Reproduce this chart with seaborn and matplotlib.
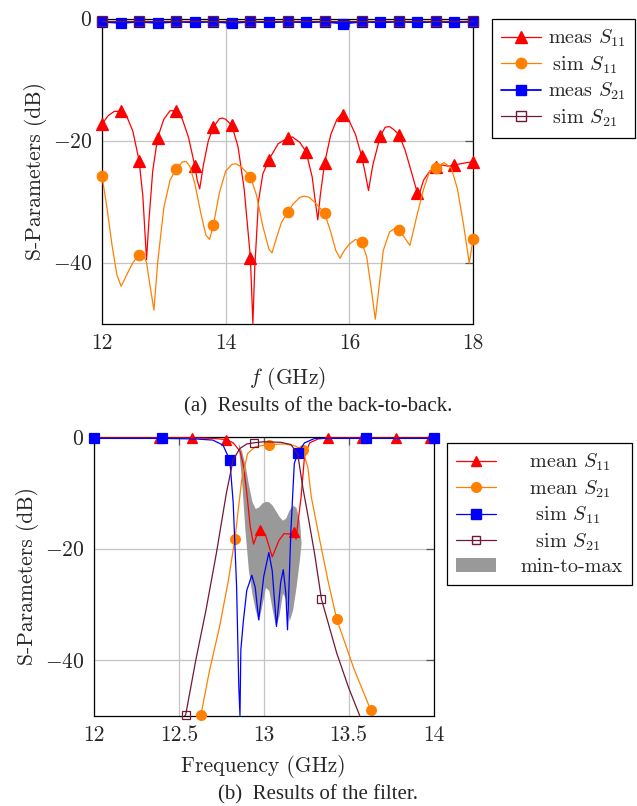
import numpy as np
import matplotlib
matplotlib.use("Agg")
import matplotlib.pyplot as plt
from matplotlib.lines import Line2D
from matplotlib.patches import Patch
import seaborn as sns

# ---------------- (a) back-to-back ----------------
f_meas_s11 = [12.00, 12.10, 12.20, 12.30, 12.40, 12.50, 12.60, 12.66, 12.70, 12.72, 12.76, 12.82,
              12.90, 13.00, 13.10, 13.20, 13.30, 13.40, 13.50, 13.54, 13.58, 13.64, 13.72, 13.80,
              13.90, 13.95, 14.00, 14.10, 14.20, 14.30, 14.40, 14.44, 14.47, 14.53, 14.60, 14.70,
              14.85, 15.00, 15.08, 15.20, 15.30, 15.40, 15.45, 15.49, 15.53, 15.60, 15.70, 15.80,
              15.88, 15.90, 16.00, 16.10, 16.20, 16.26, 16.31, 16.38, 16.50, 16.58, 16.65, 16.72,
              16.80, 16.90, 17.00, 17.10, 17.13, 17.20, 17.30, 17.40, 17.50, 17.60, 17.70, 17.80,
              17.90, 18.00]
meas_s11 = [-17.3, -15.9, -15.2, -15.2, -16.0, -18.5, -23.3, -29.0, -36.0, -39.5, -33.0, -25.0,
            -19.5, -16.5, -15.1, -15.1, -16.5, -19.5, -24.1, -26.5, -27.9, -24.0, -20.0, -17.8,
            -16.4, -16.3, -16.5, -17.5, -21.0, -28.0, -39.2, -50.0, -41.0, -30.0, -25.5, -23.1,
            -20.5, -19.6, -19.4, -20.3, -21.8, -26.0, -30.0, -33.0, -29.0, -23.7, -19.0, -16.5,
            -15.6, -15.8, -16.8, -19.0, -22.6, -25.5, -28.2, -24.0, -19.3, -17.8, -17.7, -18.2,
            -19.0, -21.5, -25.0, -28.6, -28.8, -26.5, -25.0, -24.3, -24.0, -24.2, -24.0, -23.8,
            -23.6, -23.5]
meas_s11_marks = [12.0, 12.3, 12.6, 12.9, 13.2, 13.5, 13.8, 14.1, 14.4, 14.7, 15.0, 15.3, 15.6,
                  15.9, 16.2, 16.5, 16.8, 17.1, 17.4, 17.7, 18.0]

f_sim_s11 = [12.00, 12.08, 12.16, 12.24, 12.31, 12.40, 12.50, 12.60, 12.66, 12.72, 12.78, 12.84,
             12.90, 13.00, 13.10, 13.20, 13.30, 13.36, 13.42, 13.50, 13.60, 13.68, 13.74, 13.80,
             13.90, 14.00, 14.10, 14.17, 14.25, 14.40, 14.50, 14.60, 14.70, 14.75, 14.82, 14.90,
             15.00, 15.10, 15.20, 15.27, 15.35, 15.45, 15.60, 15.70, 15.78, 15.85, 15.92, 16.00,
             16.10, 16.20, 16.28, 16.35, 16.42, 16.48, 16.55, 16.65, 16.75, 16.80, 16.90, 16.98,
             17.10, 17.20, 17.30, 17.40, 17.53, 17.65, 17.75, 17.85, 17.94, 18.00]
sim_s11 = [-25.8, -31.0, -37.0, -42.0, -43.9, -42.0, -40.0, -38.7, -38.5, -40.0, -44.0, -47.8,
           -40.0, -31.0, -26.5, -24.6, -23.5, -23.4, -24.2, -27.0, -32.0, -35.5, -36.2, -33.9,
           -28.5, -25.0, -23.9, -23.8, -24.3, -25.9, -29.0, -34.0, -37.8, -38.4, -36.0, -33.5,
           -31.7, -30.3, -29.3, -29.1, -29.3, -30.2, -31.9, -35.0, -38.0, -39.3, -38.0, -37.0,
           -36.2, -36.7, -39.0, -44.0, -49.3, -44.0, -38.0, -35.0, -34.3, -34.6, -36.0, -37.2,
           -32.0, -28.0, -25.0, -24.5, -23.6, -24.5, -28.0, -34.0, -40.1, -36.2]
sim_s11_marks = [12.0, 12.6, 13.2, 13.8, 14.4, 15.0, 15.6, 16.2, 16.8, 17.4, 18.0]

f_s21 = [12.0, 12.3, 12.6, 12.9, 13.2, 13.5, 13.8, 14.1, 14.4, 14.7, 15.0, 15.3, 15.6, 15.9,
         16.2, 16.5, 16.8, 17.1, 17.4, 17.7, 18.0]
meas_s21 = [-0.5, -0.7, -0.5, -0.7, -0.5, -0.6, -0.5, -0.7, -0.5, -0.6, -0.5, -0.6, -0.5, -0.8,
            -0.5, -0.6, -0.5, -0.6, -0.5, -0.6, -0.5]
sim_s21 = [-0.3, -0.3, -0.3, -0.3, -0.3, -0.3, -0.3, -0.3, -0.3, -0.3, -0.3, -0.3, -0.3, -0.3,
           -0.3, -0.3, -0.3, -0.3, -0.3, -0.3, -0.3]
meas_s21_marks = f_s21
sim_s21_marks = [12.0, 12.6, 13.2, 13.8, 14.4, 15.0, 15.6, 16.2, 16.8, 17.4, 18.0]

# ---------------- (b) filter ----------------
f_mean_s11 = [12.00, 12.38, 12.58, 12.70, 12.78, 12.82, 12.86, 12.88, 12.90, 12.92, 12.94, 12.96,
              12.98, 13.01, 13.05, 13.09, 13.12, 13.15, 13.18, 13.19, 13.22, 13.24, 13.27, 13.32,
              13.38, 13.58, 13.78, 13.98, 14.00]
mean_s11 = [-0.1, -0.1, -0.1, -0.2, -0.4, -1.0, -2.5, -5.0, -10.0, -16.0, -19.2, -17.5,
            -16.7, -17.5, -21.5, -18.5, -17.3, -17.4, -17.0, -18.3, -10.7, -3.5, -1.0, -0.3,
            -0.1, -0.1, -0.1, -0.1, -0.1]
mean_s11_marks = [12.38, 12.58, 12.78, 12.98, 13.18, 13.38, 13.58, 13.78, 13.98]

f_mean_s21 = [12.62, 12.63, 12.68, 12.74, 12.79, 12.83, 12.87, 12.905, 12.95, 13.03, 13.12, 13.18,
              13.23, 13.26, 13.28, 13.33, 13.38, 13.43, 13.53, 13.63, 13.645]
mean_s21 = [-50.0, -49.9, -42.0, -34.0, -26.0, -18.3, -7.7, -2.9, -1.7, -1.3, -1.2, -1.5,
            -2.2, -5.5, -10.7, -18.5, -26.0, -32.7, -41.5, -49.0, -50.0]
mean_s21_marks = [12.63, 12.83, 13.03, 13.23, 13.43, 13.63]

f_sim_s11b = [12.00, 12.40, 12.60, 12.70, 12.76, 12.80, 12.82, 12.84, 12.853, 12.86, 12.865, 12.88,
              12.90, 12.93, 12.95, 12.97, 13.00, 13.03, 13.05, 13.075, 13.10, 13.115, 13.13, 13.14,
              13.16, 13.18, 13.20, 13.24, 13.30, 13.60, 14.00]
sim_s11b = [-0.2, -0.2, -0.3, -0.5, -1.4, -4.1, -11.8, -26.8, -44.8, -50.0, -38.2, -33.0,
            -27.5, -24.8, -27.0, -32.8, -25.0, -20.7, -24.0, -34.0, -26.0, -23.8, -28.0, -34.6,
            -16.7, -4.7, -2.9, -1.0, -0.2, -0.2, -0.2]
sim_s11b_marks = [12.0, 12.4, 12.8, 13.2, 13.6, 14.0]

f_sim_s21b = [12.535, 12.54, 12.60, 12.66, 12.72, 12.78, 12.82, 12.86, 12.90, 12.94, 13.00, 13.10,
              13.16, 13.20, 13.23, 13.26, 13.30, 13.34, 13.43, 13.50, 13.565]
sim_s21b = [-50.0, -49.9, -40.0, -31.0, -21.0, -10.0, -4.0, -2.0, -1.2, -1.0, -0.8, -0.9,
            -1.3, -3.0, -9.0, -14.0, -21.0, -29.1, -38.8, -45.0, -50.0]
sim_s21b_marks = [12.54, 12.94, 13.34]

f_band = [12.85, 12.87, 12.89, 12.91, 12.93, 12.95, 12.97, 12.99, 13.01, 13.03, 13.05, 13.07,
          13.09, 13.11, 13.13, 13.15, 13.17, 13.19, 13.21, 13.22]
band_max = [-1.0, -2.5, -5.0, -8.5, -11.5, -12.8, -12.5, -11.8, -11.5, -11.6, -12.2, -13.2,
            -14.2, -14.9, -14.5, -13.0, -12.2, -12.6, -15.0, -19.0]
band_min = [-1.5, -8.0, -17.0, -24.0, -28.0, -31.0, -33.0, -30.0, -27.0, -27.5, -31.0, -34.0,
            -32.0, -28.0, -29.0, -33.0, -31.0, -27.0, -22.0, -19.0]

# ---------------- style ----------------
RED, ORANGE, BLUE, MAROON, GREY = "#ff0000", "#ff8000", "#0000ff", "#701838", "#999999"

sns.set_style("white")
plt.rcParams["font.family"] = ["cmr10", "DejaVu Sans"]
plt.rcParams["mathtext.fontset"] = "cm"
plt.rcParams["axes.formatter.use_mathtext"] = True
plt.rcParams["axes.unicode_minus"] = True

FS = 15.5
LFS = 14.5

fig = plt.figure(figsize=(6.37, 8.06), dpi=100)
W, H = 637.0, 806.0
ax1 = fig.add_axes([102 / W, 1 - 323.5 / H, (473 - 102) / W, (323.5 - 18.7) / H])
ax2 = fig.add_axes([94 / W, 1 - 715.5 / H, (433.5 - 94) / W, (715.5 - 437.3) / H])


def idx(f, marks):
    fa = np.asarray(f)
    return [int(np.argmin(np.abs(fa - m))) for m in marks]


def draw(ax, f, v, marks, color, marker, ms, mfc=None, lw=0.9, z=3):
    sns.lineplot(x=f, y=v, ax=ax, color=color, lw=lw, sort=False, estimator=None,
                 marker=marker, markersize=ms, markevery=idx(f, marks),
                 markerfacecolor=(color if mfc is None else mfc), markeredgecolor=color,
                 markeredgewidth=0.9, legend=False, clip_on=False, zorder=z)


def style(ax, xt, xlab, xlim, lpad):
    ax.set_xlim(*xlim)
    ax.set_ylim(-50, 0)
    ax.set_xticks(xt)
    ax.set_yticks([-40, -20, 0])
    ax.grid(True, color="#c4c4c4", lw=0.9)
    ax.set_axisbelow(True)
    for s in ax.spines.values():
        s.set_color("black")
        s.set_linewidth(0.9)
        s.set_visible(True)
    ax.tick_params(direction="in", length=6, width=0.9, color="#555555",
                   top=True, right=True, labelsize=FS, pad=7)
    ax.set_xlabel(xlab, fontsize=FS, labelpad=lpad)
    ax.set_ylabel("S-Parameters (dB)", fontsize=FS)


# (a)
draw(ax1, f_meas_s11, meas_s11, meas_s11_marks, RED, "^", 8)
draw(ax1, f_sim_s11, sim_s11, sim_s11_marks, ORANGE, "o", 7.5)
draw(ax1, f_s21, meas_s21, meas_s21_marks, BLUE, "s", 7, lw=1.3)
draw(ax1, f_s21, sim_s21, sim_s21_marks, MAROON, "s", 6.5, mfc="none")
style(ax1, [12, 14, 16, 18], "$f$ (GHz)", (12, 18), 9)
ax1.set_xticklabels(["12", "14", "16", "18"])
ax1.set_yticklabels(["$-40$", "$-20$", "$0$"])

h1 = [Line2D([], [], color=RED, lw=0.9, marker="^", ms=8, mfc=RED, mec=RED),
      Line2D([], [], color=ORANGE, lw=0.9, marker="o", ms=7.5, mfc=ORANGE, mec=ORANGE),
      Line2D([], [], color=BLUE, lw=1.3, alpha=1, marker="s", ms=7, mfc=BLUE, mec=BLUE),
      Line2D([], [], color=MAROON, lw=0.9, marker="s", ms=6.5, mfc="none", mec=MAROON)]
l1 = ["meas $S_{11}$", r"$\;$sim $S_{11}$", "meas $S_{21}$", r"$\;$sim $S_{21}$"]
leg1 = ax1.legend(h1, l1, loc="upper left", bbox_to_anchor=(492 / W, 1 - 19 / H),
                  bbox_transform=fig.transFigure, borderaxespad=0, frameon=True,
                  fancybox=False, edgecolor="black", framealpha=1, fontsize=LFS,
                  handlelength=2.0, handletextpad=0.35, labelspacing=0.25, borderpad=0.45,
                  numpoints=1)
leg1.get_frame().set_linewidth(0.9)

# (b)
ax2.fill_between(f_band, band_min, band_max, color=GREY, lw=0, zorder=2)
draw(ax2, f_mean_s11, mean_s11, mean_s11_marks, RED, "^", 7)
draw(ax2, f_mean_s21, mean_s21, mean_s21_marks, ORANGE, "o", 7)
draw(ax2, f_sim_s11b, sim_s11b, sim_s11b_marks, BLUE, "s", 7)
draw(ax2, f_sim_s21b, sim_s21b, sim_s21b_marks, MAROON, "s", 6, mfc="none")
style(ax2, [12, 12.5, 13, 13.5, 14], "Frequency (GHz)", (12, 14), 7.5)
ax2.set_xticklabels(["12", "12.5", "13", "13.5", "14"])
ax2.set_yticklabels(["$-40$", "$-20$", "$0$"])

h2 = [Line2D([], [], color=RED, lw=0.9, marker="^", ms=7, mfc=RED, mec=RED),
      Line2D([], [], color=ORANGE, lw=0.9, marker="o", ms=7, mfc=ORANGE, mec=ORANGE),
      Line2D([], [], color=BLUE, lw=0.9, marker="s", ms=7, mfc=BLUE, mec=BLUE),
      Line2D([], [], color=MAROON, lw=0.9, marker="s", ms=6, mfc="none", mec=MAROON),
      Patch(facecolor=GREY, edgecolor="none")]
l2 = [r"$\enspace$mean $S_{11}$", r"$\enspace$mean $S_{21}$", r"$\enspace\ $sim $S_{11}$",
      r"$\enspace\ $sim $S_{21}$", "min-to-max"]
leg2 = ax2.legend(h2, l2, loc="upper left", bbox_to_anchor=(447 / W, 1 - 443 / H),
                  bbox_transform=fig.transFigure, borderaxespad=0, frameon=True,
                  fancybox=False, edgecolor="black", framealpha=1, fontsize=LFS,
                  handlelength=2.0, handletextpad=1.2, labelspacing=0.25, borderpad=0.45,
                  numpoints=1)
leg2.get_frame().set_linewidth(0.9)

fig.text(0.5, 1 - 407 / H, "(a)  Results of the back-to-back.", ha="center", va="center",
         fontsize=15, family="Liberation Serif")
fig.text(0.5, 1 - 795 / H, "(b)  Results of the filter.", ha="center", va="center",
         fontsize=15, family="Liberation Serif")

fig.savefig("out.png", dpi=100)
